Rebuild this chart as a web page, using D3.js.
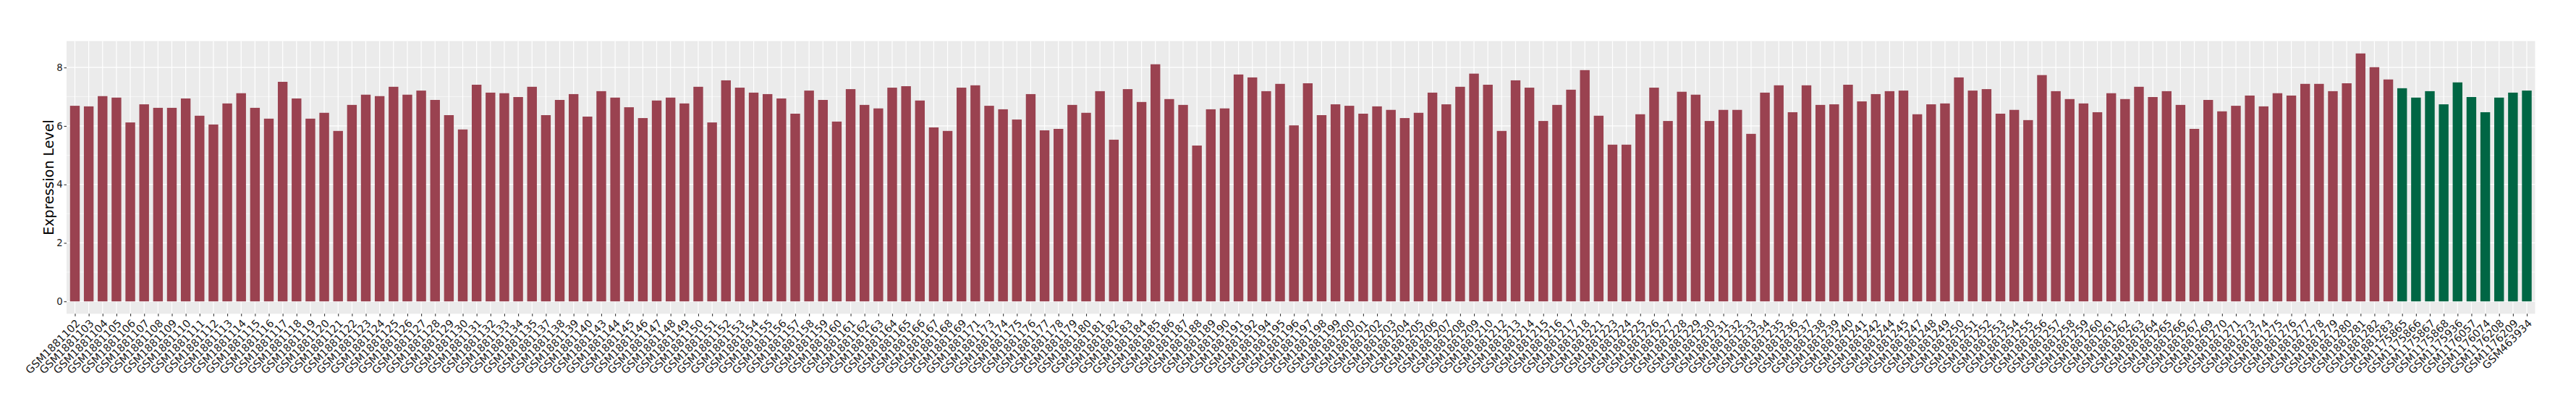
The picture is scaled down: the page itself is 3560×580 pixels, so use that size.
<!DOCTYPE html>
<html>
<head>
<meta charset="utf-8">
<script src="https://cdn.jsdelivr.net/npm/d3@7"></script>
<style>
  body { margin: 0; background: #fff; }
  text { font-family: "DejaVu Sans", sans-serif; }
</style>
</head>
<body>
<div class="barChart"></div>
<script>
// tumour samples (red) then normal samples (green)
const redSamples = [
  "GSM1881102", "GSM1881103", "GSM1881104", "GSM1881105", "GSM1881106", "GSM1881107",
  "GSM1881108", "GSM1881109", "GSM1881110", "GSM1881111", "GSM1881112", "GSM1881113",
  "GSM1881114", "GSM1881115", "GSM1881116", "GSM1881117", "GSM1881118", "GSM1881119",
  "GSM1881120", "GSM1881121", "GSM1881122", "GSM1881123", "GSM1881124", "GSM1881125",
  "GSM1881126", "GSM1881127", "GSM1881128", "GSM1881129", "GSM1881130", "GSM1881131",
  "GSM1881132", "GSM1881133", "GSM1881134", "GSM1881135", "GSM1881137", "GSM1881138",
  "GSM1881139", "GSM1881140", "GSM1881143", "GSM1881144", "GSM1881145", "GSM1881146",
  "GSM1881147", "GSM1881148", "GSM1881149", "GSM1881150", "GSM1881151", "GSM1881152",
  "GSM1881153", "GSM1881154", "GSM1881155", "GSM1881156", "GSM1881157", "GSM1881158",
  "GSM1881159", "GSM1881160", "GSM1881161", "GSM1881162", "GSM1881163", "GSM1881164",
  "GSM1881165", "GSM1881166", "GSM1881167", "GSM1881168", "GSM1881169", "GSM1881171",
  "GSM1881173", "GSM1881174", "GSM1881175", "GSM1881176", "GSM1881177", "GSM1881178",
  "GSM1881179", "GSM1881180", "GSM1881181", "GSM1881182", "GSM1881183", "GSM1881184",
  "GSM1881185", "GSM1881186", "GSM1881187", "GSM1881188", "GSM1881189", "GSM1881190",
  "GSM1881191", "GSM1881192", "GSM1881194", "GSM1881195", "GSM1881196", "GSM1881197",
  "GSM1881198", "GSM1881199", "GSM1881200", "GSM1881201", "GSM1881202", "GSM1881203",
  "GSM1881204", "GSM1881205", "GSM1881206", "GSM1881207", "GSM1881208", "GSM1881209",
  "GSM1881210", "GSM1881212", "GSM1881213", "GSM1881214", "GSM1881215", "GSM1881216",
  "GSM1881217", "GSM1881218", "GSM1881221", "GSM1881223", "GSM1881224", "GSM1881225",
  "GSM1881226", "GSM1881227", "GSM1881228", "GSM1881229", "GSM1881230", "GSM1881231",
  "GSM1881232", "GSM1881233", "GSM1881234", "GSM1881235", "GSM1881236", "GSM1881237",
  "GSM1881238", "GSM1881239", "GSM1881240", "GSM1881241", "GSM1881242", "GSM1881244",
  "GSM1881245", "GSM1881247", "GSM1881248", "GSM1881249", "GSM1881250", "GSM1881251",
  "GSM1881252", "GSM1881253", "GSM1881254", "GSM1881255", "GSM1881256", "GSM1881257",
  "GSM1881258", "GSM1881259", "GSM1881260", "GSM1881261", "GSM1881262", "GSM1881263",
  "GSM1881264", "GSM1881265", "GSM1881266", "GSM1881267", "GSM1881269", "GSM1881270",
  "GSM1881271", "GSM1881273", "GSM1881274", "GSM1881275", "GSM1881276", "GSM1881277",
  "GSM1881278", "GSM1881279", "GSM1881280", "GSM1881281", "GSM1881282", "GSM1881283"
];
const redValues = [
  6.69, 6.67, 7.02, 6.97, 6.12, 6.74, 6.62, 6.62, 6.94, 6.35, 6.05, 6.77,
  7.12, 6.62, 6.25, 7.51, 6.94, 6.25, 6.45, 5.83, 6.72, 7.07, 7.02, 7.34,
  7.07, 7.21, 6.89, 6.37, 5.88, 7.41, 7.14, 7.12, 6.99, 7.34, 6.37, 6.89,
  7.09, 6.32, 7.19, 6.97, 6.64, 6.27, 6.87, 6.97, 6.77, 7.34, 6.12, 7.56,
  7.31, 7.14, 7.09, 6.94, 6.42, 7.21, 6.89, 6.15, 7.26, 6.72, 6.60, 7.31,
  7.36, 6.87, 5.95, 5.83, 7.31, 7.39, 6.69, 6.57, 6.22, 7.09, 5.85, 5.90,
  6.72, 6.45, 7.19, 5.53, 7.26, 6.82, 8.11, 6.92, 6.72, 5.33, 6.57, 6.60,
  7.76, 7.66, 7.19, 7.44, 6.02, 7.46, 6.37, 6.74, 6.69, 6.42, 6.67, 6.55,
  6.27, 6.45, 7.14, 6.74, 7.34, 7.79, 7.41, 5.83, 7.56, 7.31, 6.17, 6.72,
  7.24, 7.91, 6.35, 5.36, 5.36, 6.40, 7.31, 6.17, 7.17, 7.07, 6.17, 6.55,
  6.55, 5.73, 7.14, 7.39, 6.47, 7.39, 6.72, 6.74, 7.41, 6.84, 7.09, 7.19,
  7.21, 6.40, 6.74, 6.77, 7.66, 7.21, 7.26, 6.42, 6.55, 6.20, 7.74, 7.19,
  6.92, 6.77, 6.47, 7.12, 6.92, 7.34, 6.99, 7.19, 6.72, 5.90, 6.89, 6.50,
  6.69, 7.04, 6.67, 7.12, 7.04, 7.44, 7.44, 7.19, 7.46, 8.48, 8.01, 7.59
];
const greenSamples = [
  "GSM1175865", "GSM1175866", "GSM1175867", "GSM1175868", "GSM1175936",
  "GSM1176057", "GSM1176074", "GSM1176208", "GSM1176209", "GSM463934"
];
const greenValues = [7.29, 6.97, 7.19, 6.74, 7.49, 6.99, 6.47, 6.97, 7.14, 7.21];
const yTicks = [0, 2, 4, 6, 8];
const yMinorTicks = [1, 3, 5, 7];

const colorRed = "#9A4250";
const colorGreen = "#006644";

const data = redSamples
  .map((s, i) => ({ sample: s, value: redValues[i], color: colorRed }))
  .concat(greenSamples.map((s, i) => ({ sample: s, value: greenValues[i], color: colorGreen })));

const svgWidth = 3560;
const svgHeight = 580;
const svg = d3.select(".barChart").append("svg")
  .attr("width", svgWidth)
  .attr("height", svgHeight);

const panel = { left: 92, right: 3503.5, top: 56.7, bottom: 433.3 };

const xValue = (d) => d.sample;
const yValue = (d) => d.value;

// ggplot style: 0.6 step expansion on a discrete axis
const xScale = d3.scalePoint()
  .domain(data.map(xValue))
  .range([panel.left, panel.right])
  .padding(0.6);

const yMax = d3.max(data, yValue);
const yScale = d3.scaleLinear()
  .domain([-0.05 * yMax, 1.05 * yMax])
  .range([panel.bottom, panel.top]);

const barWidth = xScale.step() * 0.7;

svg.append("rect")
  .attr("x", panel.left)
  .attr("y", panel.top)
  .attr("width", panel.right - panel.left)
  .attr("height", panel.bottom - panel.top)
  .attr("fill", "#EBEBEB");

const grid = svg.append("g").attr("stroke", "#fff");
grid.selectAll(".minor")
  .data(yMinorTicks)
  .enter()
  .append("line")
  .attr("x1", panel.left)
  .attr("x2", panel.right)
  .attr("y1", (d) => yScale(d))
  .attr("y2", (d) => yScale(d))
  .attr("stroke-width", 0.6);
grid.selectAll(".majorY")
  .data(yTicks)
  .enter()
  .append("line")
  .attr("x1", panel.left)
  .attr("x2", panel.right)
  .attr("y1", (d) => yScale(d))
  .attr("y2", (d) => yScale(d))
  .attr("stroke-width", 1.2);
grid.selectAll(".majorX")
  .data(data)
  .enter()
  .append("line")
  .attr("x1", (d) => xScale(xValue(d)))
  .attr("x2", (d) => xScale(xValue(d)))
  .attr("y1", panel.top)
  .attr("y2", panel.bottom)
  .attr("stroke-width", 1.2);

svg.append("g")
  .selectAll("rect")
  .data(data)
  .enter()
  .append("rect")
  .attr("x", (d) => xScale(xValue(d)) - barWidth / 2)
  .attr("y", (d) => yScale(yValue(d)))
  .attr("width", barWidth)
  .attr("height", (d) => yScale(0) - yScale(yValue(d)))
  .attr("fill", (d) => d.color);

// y axis
const yAxisG = svg.append("g")
  .attr("transform", `translate(${panel.left}, 0)`)
  .call(d3.axisLeft(yScale).tickValues(yTicks).tickSize(3.5).tickPadding(1.8));
yAxisG.select(".domain").remove();
yAxisG.selectAll(".tick line").attr("stroke", "#333").attr("stroke-width", 1.1);
yAxisG.selectAll(".tick text")
  .attr("fill", "#1a1a1a")
  .attr("font-size", 13.2)
  .attr("font-family", "DejaVu Sans, sans-serif");

// x axis, labels at 45 degrees with their top-right corner under the tick
const xAxisG = svg.append("g")
  .attr("transform", `translate(0, ${panel.bottom})`)
  .call(d3.axisBottom(xScale).tickSize(3.5));
xAxisG.select(".domain").remove();
xAxisG.selectAll(".tick line").attr("stroke", "#333").attr("stroke-width", 1.1);
xAxisG.selectAll(".tick text")
  .attr("fill", "#1a1a1a")
  .attr("font-size", 14.7)
  .attr("font-family", "DejaVu Sans, sans-serif")
  .attr("text-anchor", "end")
  .attr("y", 0)
  .attr("dy", "0.72em")
  .attr("transform", "translate(0, 6.7) rotate(-45)");

svg.append("text")
  .attr("transform", `translate(73.5, ${(panel.top + panel.bottom) / 2}) rotate(-90)`)
  .attr("text-anchor", "middle")
  .attr("font-size", 19)
  .attr("fill", "#000")
  .text("Expression Level");
</script>
</body>
</html>
